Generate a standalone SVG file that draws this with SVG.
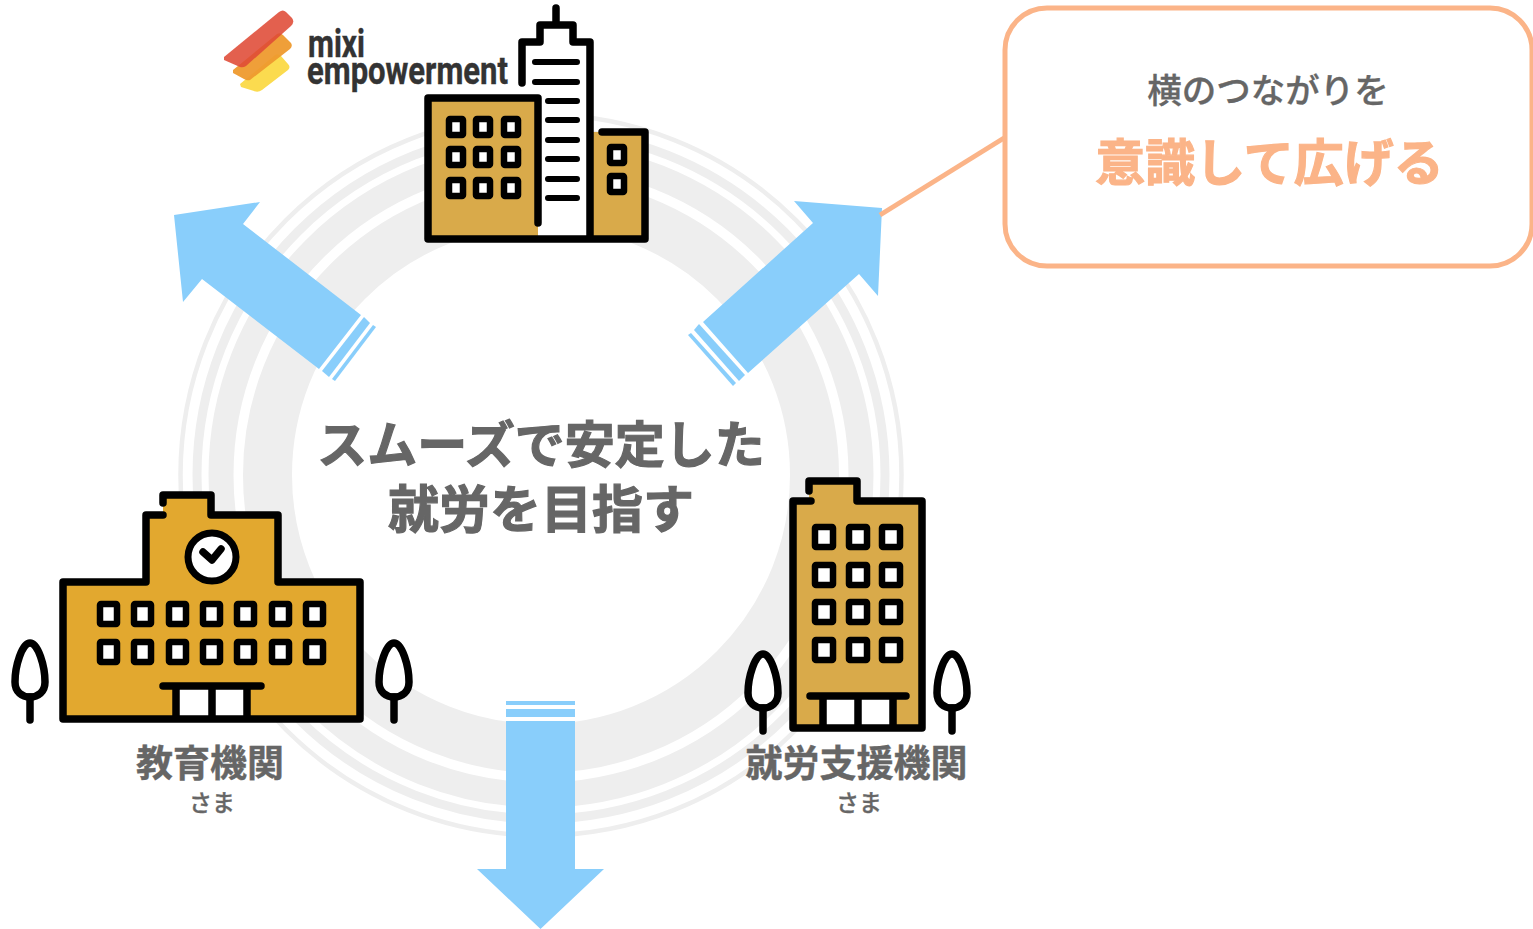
<svg xmlns="http://www.w3.org/2000/svg" width="1533" height="929" viewBox="0 0 1533 929">
<style>
.jp{font-family:"Noto Sans CJK JP","Noto Sans",sans-serif;fill:#666;text-anchor:middle}
.b{font-weight:700;stroke:#666;stroke-width:1.2}
.s{font-weight:700;stroke:#666;stroke-width:.4}
.m{font-weight:500;stroke:#666;stroke-width:.3}
.ink{stroke:#000;stroke-width:7.5;stroke-linejoin:round;stroke-linecap:round}
.win{fill:#fff;stroke:#000;stroke-width:6.5;stroke-linejoin:round}
.line{fill:none;stroke:#000;stroke-width:6;stroke-linecap:round}
.ring{fill:none;stroke:#eee}
.arrow{fill:#89CEFB}
.tree{fill:#fff;stroke:#000;stroke-width:7.5;stroke-linecap:round;stroke-linejoin:round}
.logo{font-family:Roboto,"Liberation Sans",sans-serif;font-weight:700;font-size:38px;fill:#333;stroke:#333;stroke-width:.4}
</style>
<defs>
<g id="tree"><path class="tree" d="M0 -39C-8 -39 -15 -16 -15 0C-15 10 -8 15 0 15C8 15 15 10 15 0C15 -16 8 -39 0 -39Z"/><path class="tree" d="M0 15V38"/></g>
</defs>
<rect width="1533" height="929" fill="#fff"/>
<g id="rings">
<circle class="ring" cx="541" cy="475" r="273.500" stroke-width="49"/>
<circle class="ring" cx="541" cy="475" r="320" stroke-width="25"/>
<circle class="ring" cx="541" cy="475" r="344" stroke-width="9"/>
<circle class="ring" cx="541" cy="475" r="360.500" stroke-width="4.500"/>
</g>
<g id="connectors">
<g id="arrow-left" class="arrow">
<polygon points="174,215 260,202 243,224 361,315 319,369 202,279 183,302"/>
<polygon points="364,317 370,323 329,377 322,371"/>
<polygon points="373,325 376,327 335,381 332,379"/>
</g>
<g id="arrow-right" class="arrow">
<polygon points="794,201 882,208 878,296 859,274 748,373 703,322 813,223"/>
<polygon points="699,324 694,330 739,381 745,375"/>
<polygon points="691,333 688,335 733,386 736,383"/>
</g>
<g id="arrow-down" class="arrow">
<rect x="506" y="701" width="69" height="4"/>
<rect x="506" y="709" width="69" height="8"/>
<polygon points="506,721 575,721 575,869 604,869 540.500,929 477,869 506,869"/>
</g>
<line x1="880" y1="215" x2="1004" y2="138" stroke="#FBB488" stroke-width="5"/>
</g>
<g id="callout">
<rect x="1005" y="8" width="527" height="258" rx="42" fill="#fff" stroke="#FBB488" stroke-width="5"/>
<text class="jp m" x="1268" y="103" font-size="34.500" font-weight="400">横のつながりを</text>
<text class="jp b" x="1269.500" y="181" font-size="50" style="fill:#FBB488;stroke:#FBB488">意識して広げる</text>
</g>
<g id="center-label">
<text class="jp b" x="541" y="463" font-size="50">スムーズで安定した</text>
<text class="jp b" x="541" y="528" font-size="51">就労を目指す</text>
</g>
<g id="logo">
<path d="M240 84L275 55Q278 53 281 56L288 64Q291 67 288 70L262 90Q258 93 254 91L241 87Z" fill="#FBDB4F"/>
<path d="M233 70L277 34Q280 32 283 35L291 43Q293 46 290 49L250 80Q247 81 244 79L233 73Z" fill="#EE9A2E" opacity=".95"/>
<path d="M224 57L279 12Q283 9 286 12L292 18Q295 22 291 26L246 66Q243 68 240 67L224 60Z" fill="#DF4A36" opacity=".88"/>
<text class="logo" x="308" y="57" textLength="57" lengthAdjust="spacingAndGlyphs">mixi</text>
<text class="logo" x="307" y="84" textLength="201" lengthAdjust="spacingAndGlyphs">empowerment</text>
</g>
<g id="company">
<rect x="528" y="42" width="61" height="197" fill="#fff"/>
<polygon points="428,98 538,98 538,239 428,239" fill="#D9AA4A"/>
<polygon points="593,132 645,132 645,239 593,239" fill="#D9AA4A"/>
<path class="ink" fill="none" d="M522 83V42H540V25H573V42H590V239M556 25V8M602 132H645V239H428V98H538V223"/>
<path class="line" d="M535 62H577M535 82H577M548 101H577M548 120H577M548 140H577M548 159H577M548 179H577M548 198H577"/>
<g class="win">
<rect x="449" y="119" width="14" height="16" rx="1"/><rect x="476" y="119" width="14" height="16" rx="1"/><rect x="504" y="119" width="14" height="16" rx="1"/>
<rect x="449" y="149" width="14" height="16" rx="1"/><rect x="476" y="149" width="14" height="16" rx="1"/><rect x="504" y="149" width="14" height="16" rx="1"/>
<rect x="449" y="180" width="14" height="16" rx="1"/><rect x="476" y="180" width="14" height="16" rx="1"/><rect x="504" y="180" width="14" height="16" rx="1"/>
<rect x="610" y="147" width="14" height="16" rx="1"/><rect x="610" y="176" width="14" height="16" rx="1"/>
</g>
</g>
<g id="school">
<path d="M163 495H211V515H278V582H360V719H63V582H146V515H163Z" fill="#E2A82F"/>
<rect x="176" y="686" width="71" height="33" fill="#fff"/>
<path class="ink" fill="none" d="M163 503V495H211V515H278V582H360V719H63V582H146V515H163M163 686H261M176 686V719M212 686V719M247 686V719"/>
<circle cx="212" cy="557" r="24" fill="#fff" stroke="#000" stroke-width="7"/>
<path class="ink" fill="none" d="M203 552L212 560L221 549"/>
<g class="win">
<rect x="100" y="604" width="17" height="20" rx="1"/><rect x="134" y="604" width="17" height="20" rx="1"/><rect x="169" y="604" width="17" height="20" rx="1"/><rect x="203" y="604" width="17" height="20" rx="1"/><rect x="237" y="604" width="17" height="20" rx="1"/><rect x="272" y="604" width="17" height="20" rx="1"/><rect x="306" y="604" width="17" height="20" rx="1"/>
<rect x="100" y="642" width="17" height="20" rx="1"/><rect x="134" y="642" width="17" height="20" rx="1"/><rect x="169" y="642" width="17" height="20" rx="1"/><rect x="203" y="642" width="17" height="20" rx="1"/><rect x="237" y="642" width="17" height="20" rx="1"/><rect x="272" y="642" width="17" height="20" rx="1"/><rect x="306" y="642" width="17" height="20" rx="1"/>
</g>
<use href="#tree" x="30" y="682"/>
<use href="#tree" x="394" y="682"/>
<text class="jp s" x="210" y="777" font-size="37">教育機関</text>
<text class="jp m" x="212" y="811" font-size="23">さま</text>
</g>
<g id="agency">
<path d="M809 481H857V501H922V728H793V501H809Z" fill="#D9AA4A"/>
<rect x="823" y="696" width="70" height="32" fill="#fff"/>
<path class="ink" fill="none" d="M809 491V481H857V501H922V728H793V501H811M810 696H906M823 696V728M858 696V728M893 696V728"/>
<g class="win">
<rect x="815" y="527" width="18" height="20" rx="1"/><rect x="849" y="527" width="18" height="20" rx="1"/><rect x="882" y="527" width="18" height="20" rx="1"/>
<rect x="815" y="565" width="18" height="20" rx="1"/><rect x="849" y="565" width="18" height="20" rx="1"/><rect x="882" y="565" width="18" height="20" rx="1"/>
<rect x="815" y="602" width="18" height="20" rx="1"/><rect x="849" y="602" width="18" height="20" rx="1"/><rect x="882" y="602" width="18" height="20" rx="1"/>
<rect x="815" y="640" width="18" height="20" rx="1"/><rect x="849" y="640" width="18" height="20" rx="1"/><rect x="882" y="640" width="18" height="20" rx="1"/>
</g>
<use href="#tree" x="763" y="693"/>
<use href="#tree" x="952" y="693"/>
<text class="jp s" x="856.500" y="777" font-size="37">就労支援機関</text>
<text class="jp m" x="859" y="811" font-size="23">さま</text>
</g>
</svg>
